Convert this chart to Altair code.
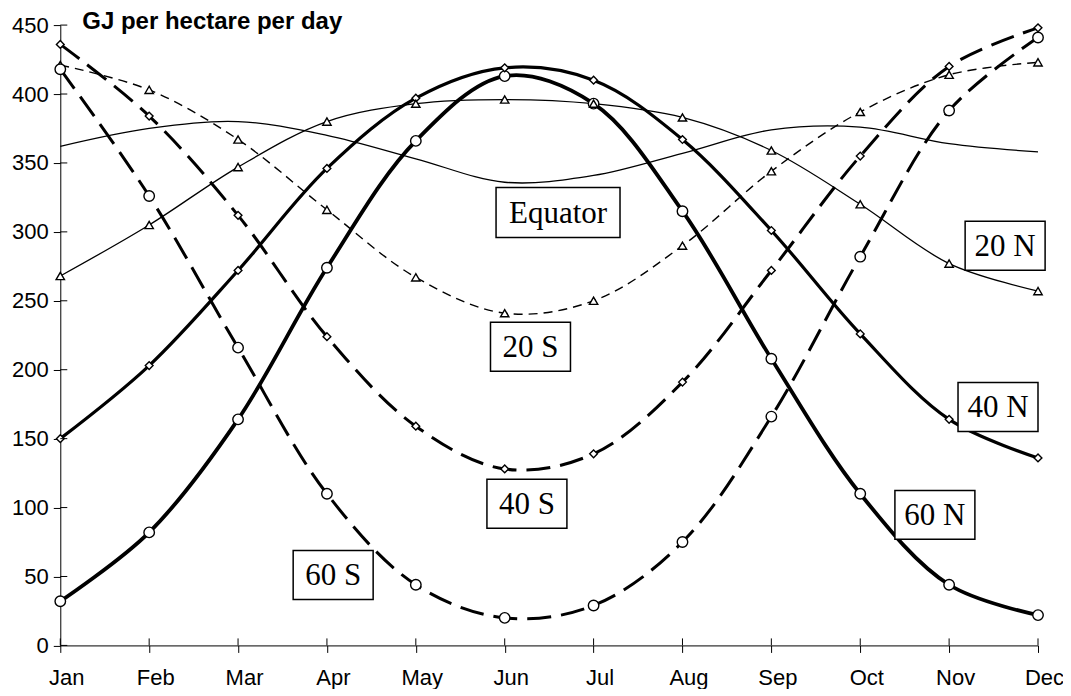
import altair as alt
import pandas as pd

months = ["Jan", "Feb", "Mar", "Apr", "May", "Jun", "Jul", "Aug", "Sep", "Oct", "Nov", "Dec"]

n60 = [32, 82, 164, 274, 366, 413, 393, 315, 208, 110, 44, 22]
n40 = [150, 203, 272, 346, 397, 419, 410, 367, 301, 226, 164, 136]
n20 = [268, 305, 347, 380, 393, 396, 393, 383, 359, 320, 277, 257]
equator = [362, 375, 380, 370, 353, 336, 341, 357, 374, 376, 364, 358]
s20 = [421, 403, 367, 316, 267, 241, 250, 290, 344, 387, 414, 423]
s40 = [436, 384, 312, 224, 159, 128, 139, 191, 272, 355, 420, 448]
s60 = [418, 326, 216, 110, 44, 20, 29, 75, 166, 282, 388, 441]

series_names = ["60 N", "40 N", "20 N", "Equator", "20 S", "40 S", "60 S"]
series_values = [n60, n40, n20, equator, s20, s40, s60]

label_text = ["Equator", "20 N", "20 S", "40 N", "40 S", "60 N", "60 S"]
label_x = [5.6, 10.63, 5.29, 10.55, 5.25, 9.84, 3.07]
label_y = [314, 290, 216.6, 173, 102.7, 94.7, 51]

y_ticks = [0, 50, 100, 150, 200, 250, 300, 350, 400, 450]

W = 978
H = 620.5

styles = {
    "60 N": dict(width=3.8, dash=None, shape="circle", size=110),
    "40 N": dict(width=3.2, dash=None, shape="diamond", size=60),
    "20 N": dict(width=1.3, dash=None, shape="triangle-up", size=70),
    "Equator": dict(width=1.3, dash=None, shape=None, size=0),
    "20 S": dict(width=1.4, dash=[9, 6], shape="triangle-up", size=70),
    "40 S": dict(width=3.0, dash=[24, 10], shape="diamond", size=60),
    "60 S": dict(width=3.0, dash=[24, 10], shape="circle", size=110),
}

rows = []
for name, vals in zip(series_names, series_values):
    for i, v in enumerate(vals):
        rows.append({"series": name, "m": i, "month": months[i], "value": v})
df = pd.DataFrame(rows)

xscale = alt.Scale(domain=[0, 11], nice=False, zero=False)
yscale = alt.Scale(domain=[0, 450], nice=False)

month_expr = "[" + ",".join("'%s'" % m for m in months) + "][datum.value]"

x_axis = alt.Axis(
    values=list(range(12)), labelExpr=month_expr, grid=False, domainColor="black",
    tickColor="black", tickSize=7, labelFont="Liberation Sans", labelFontSize=22,
    labelColor="black", labelPadding=15, labelOffset=6, labelFlush=False,
    labelOverlap=False, title=None, domainWidth=1,
)
y_axis = alt.Axis(
    values=y_ticks, grid=False, domainColor="black", tickColor="black", tickSize=7,
    labelFont="Liberation Sans", labelFontSize=22, labelColor="black", labelPadding=5,
    labelFlush=False, labelOverlap=False,
    title="GJ per hectare per day", titleAngle=0, titleAlign="left",
    titleBaseline="alphabetic", titleX=21.5, titleY=3.3, titleFont="Liberation Sans",
    titleFontSize=24, titleFontWeight="bold", titleColor="black", domainWidth=1,
)


def X(field):
    return alt.X(field, scale=xscale, axis=x_axis)


def Y(field):
    return alt.Y(field, scale=yscale, axis=y_axis)


layers = []
for name in series_names:
    st = styles[name]
    sub = df[df["series"] == name]
    mk = dict(color="black", strokeWidth=st["width"], interpolate="catmull-rom")
    if st["dash"]:
        mk["strokeDash"] = st["dash"]
    layers.append(alt.Chart(sub).mark_line(**mk).encode(x=X("m:Q"), y=Y("value:Q")))

for name in series_names:
    st = styles[name]
    if not st["shape"]:
        continue
    sub = df[df["series"] == name]
    layers.append(
        alt.Chart(sub).mark_point(
            shape=st["shape"], size=st["size"], filled=True, fill="white",
            stroke="black", strokeWidth=1.4, opacity=1,
        ).encode(x=X("m:Q"), y=Y("value:Q"))
    )

# inner halves of the crossing ticks
ytick_df = pd.DataFrame({"v": y_ticks})
layers.append(
    alt.Chart(ytick_df).mark_rule(color="black", strokeWidth=1).encode(
        y=Y("v:Q"), x=alt.value(0), x2=alt.value(7)
    )
)
xtick_df = pd.DataFrame({"m": list(range(12))})
layers.append(
    alt.Chart(xtick_df).mark_rule(color="black", strokeWidth=1).encode(
        x=X("m:Q"), y=alt.value(H), y2=alt.value(H - 7)
    )
)

lab_df = pd.DataFrame({"t": label_text, "lx": label_x, "ly": label_y})
eq_df = lab_df[lab_df["t"] == "Equator"]
other_df = lab_df[lab_df["t"] != "Equator"]

layers.append(
    alt.Chart(eq_df).mark_rect(width=124, height=50, fill="white", stroke="black", strokeWidth=1.5).encode(
        x=X("lx:Q"), y=Y("ly:Q")
    )
)
layers.append(
    alt.Chart(other_df).mark_rect(width=80, height=49, fill="white", stroke="black", strokeWidth=1.5).encode(
        x=X("lx:Q"), y=Y("ly:Q")
    )
)
layers.append(
    alt.Chart(lab_df).mark_text(
        font="Liberation Serif", fontSize=31, color="black", align="center", baseline="middle", dy=1
    ).encode(x=X("lx:Q"), y=Y("ly:Q"), text="t:N")
)

chart = alt.layer(*layers).properties(
    width=W, height=H,
    autosize=alt.AutoSizeParams(type="none"),
    padding={"left": 52.3, "top": 17, "right": 25, "bottom": 43},
    background="white",
).configure_view(stroke=None)

chart.save("out.html", embed_options={"renderer": "svg", "actions": False})
